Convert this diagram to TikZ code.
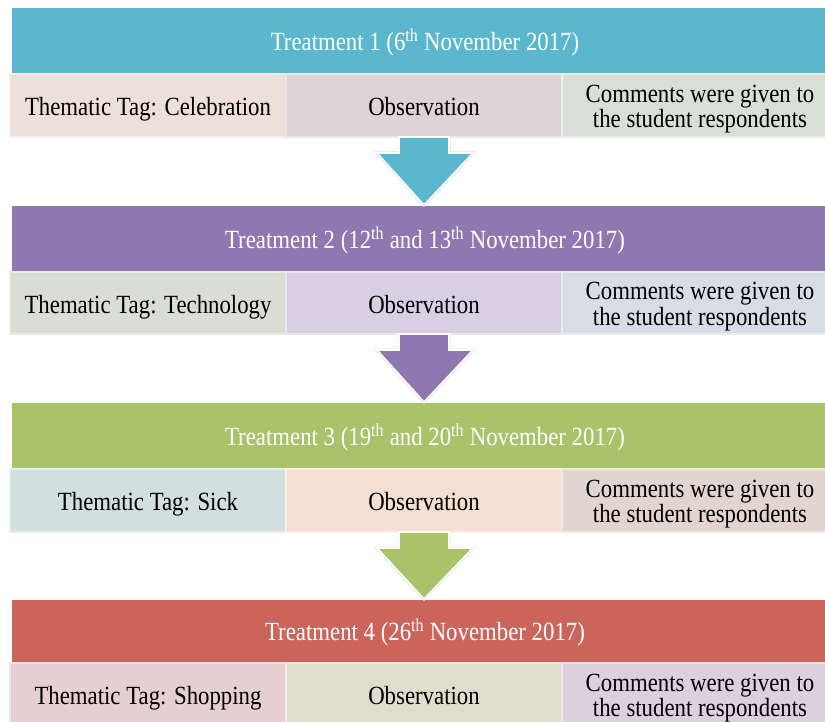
\documentclass[tikz,border=0pt]{standalone}
\usepackage{fontspec}
\setmainfont{Liberation Serif}
\usetikzlibrary{calc}
\definecolor{hA}{HTML}{5BB7CE}
\definecolor{hB}{HTML}{8F78AF}
\definecolor{hC}{HTML}{A9C36B}
\definecolor{hD}{HTML}{CB655C}
\definecolor{cAa}{HTML}{ECE0D8}
\definecolor{cAb}{HTML}{DED3D6}
\definecolor{cAc}{HTML}{D8E0D5}
\definecolor{cBa}{HTML}{DADDD3}
\definecolor{cBb}{HTML}{D8CFE2}
\definecolor{cBc}{HTML}{D6DDE6}
\definecolor{cCa}{HTML}{D1E0DF}
\definecolor{cCb}{HTML}{F4DFD1}
\definecolor{cCc}{HTML}{E2D5D0}
\definecolor{cDa}{HTML}{E5CFD3}
\definecolor{cDb}{HTML}{DEDDCE}
\definecolor{cDc}{HTML}{DCD0DE}
\tikzset{
  txt/.style={font=\fontsize{22.8}{20.9}\selectfont, inner sep=0pt, outer sep=0pt},
  header/.style={inner sep=0pt, outer sep=0pt, fill=#1, minimum width=826pt, minimum height=66pt, anchor=north west},
  cell/.style={inner sep=0pt, outer sep=0pt, fill=#1, draw=#1!55!white, line width=1.5pt, minimum width=276pt, minimum height=63pt, anchor=north west},
  htext/.style={txt, text=white},
  ctext/.style={txt, text=black},
  blockarrow/.style={fill=#1, draw=white, line width=1.6pt, line join=miter},
  arrowrim/.style={draw=black!12, line width=3pt, line join=miter}
}
\newcommand{\stretched}[1]{\scalebox{1}[1.15]{\begin{tabular}{@{}c@{}}#1\end{tabular}}}
\newcommand{\flowarrow}[3]{%
  % #1 = middle cell above, #2 = header below, #3 = colour
  \path[arrowrim] ($(#1.south)+(-25pt,0)$) -- ($(#1.south)+(-25pt,-16pt)$) -- ($(#1.south)+(-47pt,-16pt)$)
     -- ($(#2.north -| #1.south)+(0,1pt)$) -- ($(#1.south)+(49pt,-16pt)$) -- ($(#1.south)+(25pt,-16pt)$) -- ($(#1.south)+(25pt,0)$);
  \path[blockarrow=#3] ($(#1.south)+(-25pt,0)$) -- ($(#1.south)+(-25pt,-16pt)$) -- ($(#1.south)+(-47pt,-16pt)$)
     -- ($(#2.north -| #1.south)+(0,1pt)$) -- ($(#1.south)+(49pt,-16pt)$) -- ($(#1.south)+(25pt,-16pt)$) -- ($(#1.south)+(25pt,0)$) -- cycle;
}
\newcommand{\htxt}[2]{\node[htext] (#1t) at ($(#1.center)+(0,-2pt)$) {\stretched{#2}};}
\newcommand{\ctxt}[2]{\node[ctext] (#1t) at ($(#1.center)+(0,-4.8pt)$) {\stretched{#2}};}
\newcommand{\ctxtii}[2]{\node[ctext] (#1t) at ($(#1.center)+(0,-4.5pt)$) {\stretched{#2}};}
\begin{document}
\begin{tikzpicture}[x=1pt,y=-1pt]
\useasboundingbox (0,0) rectangle (825,722);
\clip (0,0) rectangle (825,722);
\fill[white] (0,0) rectangle (825,722);

% Treatment 1
\node[header=hA] (h1) at (12,8) {};
\node[cell=cAa] (l1) at (10,74) {};
\node[cell=cAb] (m1) at (286,74) {};
\node[cell=cAc] (r1) at (562,74) {};

% Treatment 2
\node[header=hB] (h2) at (12,206) {};
\node[cell=cBa, minimum height=62pt] (l2) at (10,272) {};
\node[cell=cBb, minimum height=62pt] (m2) at (286,272) {};
\node[cell=cBc, minimum height=62pt] (r2) at (562,272) {};

% Treatment 3
\node[header=hC] (h3) at (12,403) {};
\node[cell=cCa] (l3) at (10,469) {};
\node[cell=cCb] (m3) at (286,469) {};
\node[cell=cCc] (r3) at (562,469) {};

% Treatment 4
\node[header=hD, minimum height=63pt] (h4) at (12,600) {};
\node[cell=cDa] (l4) at (10,663) {};
\node[cell=cDb] (m4) at (286,663) {};
\node[cell=cDc] (r4) at (562,663) {};

% texts
\htxt{h1}{Treatment 1 (6\textsuperscript{th} November 2017)}
\ctxt{l1}{Thematic Tag: Celebration}
\ctxt{m1}{Observation}
\ctxtii{r1}{Comments were given to\\the student respondents}

\htxt{h2}{Treatment 2 (12\textsuperscript{th} and 13\textsuperscript{th} November 2017)}
\ctxt{l2}{Thematic Tag: Technology}
\ctxt{m2}{Observation}
\ctxtii{r2}{Comments were given to\\the student respondents}

\htxt{h3}{Treatment 3 (19\textsuperscript{th} and 20\textsuperscript{th} November 2017)}
\ctxt{l3}{Thematic Tag: Sick}
\ctxt{m3}{Observation}
\ctxtii{r3}{Comments were given to\\the student respondents}

\htxt{h4}{Treatment 4 (26\textsuperscript{th} November 2017)}
\ctxt{l4}{Thematic Tag: Shopping}
\ctxt{m4}{Observation}
\ctxtii{r4}{Comments were given to\\the student respondents}

% arrows
\flowarrow{m1}{h2}{hA}
\flowarrow{m2}{h3}{hB}
\flowarrow{m3}{h4}{hC}
\end{tikzpicture}
\end{document}
